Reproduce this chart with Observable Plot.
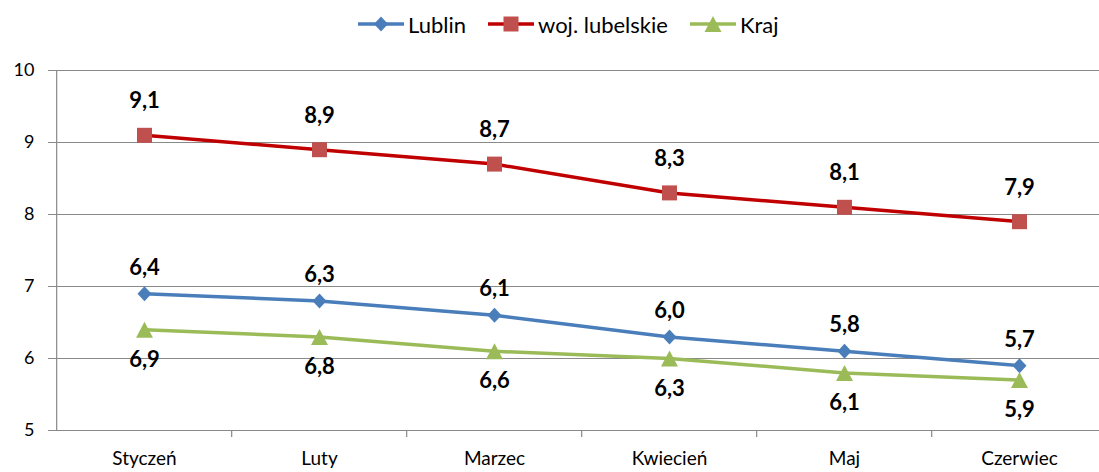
<!DOCTYPE html>
<html>
<head>
<meta charset="utf-8">
<script src="https://cdn.jsdelivr.net/npm/d3@7"></script>
<script src="https://cdn.jsdelivr.net/npm/@observablehq/plot@0.6"></script>
<style>
  html, body { margin: 0; padding: 0; background: #fff; }
  body { width: 1099px; height: 472px; overflow: hidden; font-family: Lato, "Noto Sans", sans-serif; }
  #legend { height: 45px; display: flex; align-items: center; padding-left: 358px; padding-top: 3px; box-sizing: border-box; }
  .item { display: flex; align-items: center; margin-right: 22px; font-size: 22px; color: #000; }
  .item svg { margin-right: 4px; }
  #chart svg { display: block; overflow: hidden; }
</style>
</head>
<body>
<div id="legend"></div>
<div id="chart"></div>
<script>
// ---- data ----
const months = ["Styczeń", "Luty", "Marzec", "Kwiecień", "Maj", "Czerwiec"];
const seriesNames = ["Lublin", "woj. lubelskie", "Kraj"];
const lublin = [6.9, 6.8, 6.6, 6.3, 6.1, 5.9];
const woj = [9.1, 8.9, 8.7, 8.3, 8.1, 7.9];
const kraj = [6.4, 6.3, 6.1, 6.0, 5.8, 5.7];
const yTicks = [5, 6, 7, 8, 9, 10];

// ---- styles ----
const lineColors = ["#4A7EBB", "#C00000", "#9BBB59"];
const markColors = ["#4A7EBB", "#C0504D", "#9BBB59"];

const diamond = {draw(ctx, size) { const r = Math.sqrt(size / Math.PI);
  ctx.moveTo(0, -r * 1.07); ctx.lineTo(r, 0); ctx.lineTo(0, r * 1.07); ctx.lineTo(-r, 0); ctx.closePath(); }};
const square = {draw(ctx, size) { const r = Math.sqrt(size / Math.PI);
  ctx.rect(-r, -r, 2 * r, 2 * r); }};
const triangle = {draw(ctx, size) { const r = Math.sqrt(size / Math.PI);
  ctx.moveTo(0, -r); ctx.lineTo(r * 1.06, r); ctx.lineTo(-r * 1.06, r); ctx.closePath(); }};
const symbols = [diamond, square, triangle];
const radii = [7, 7.5, 8];

const fmt = v => d3.format(".1f")(v).replace(".", ",");
const rows = (vals) => months.map((m, i) => ({month: m, value: vals[i], i}));
const dataL = rows(lublin), dataW = rows(woj), dataK = rows(kraj);

// ---- legend ----
const legend = document.getElementById("legend");
seriesNames.forEach((name, k) => {
  const item = document.createElement("div");
  item.className = "item";
  const s = d3.create("svg").attr("width", 46).attr("height", 20);
  s.append("line").attr("x1", 0).attr("x2", 46).attr("y1", 10).attr("y2", 10)
    .attr("stroke", lineColors[k]).attr("stroke-width", 3.5);
  s.append("path").attr("transform", "translate(23,10)")
    .attr("d", d3.symbol(symbols[k], Math.PI * radii[k] * radii[k])())
    .attr("fill", markColors[k]);
  item.appendChild(s.node());
  const t = document.createElement("span");
  t.textContent = name;
  item.appendChild(t);
  legend.appendChild(item);
});

// ---- chart ----
const W = 1099, H = 427;
const x0 = 55, x1 = 1109; // category area (extends past right edge)
const half = (x1 - x0) / months.length / 2;

const chart = Plot.plot({
  width: W, height: H,
  marginLeft: 55, marginRight: 0, marginTop: 25, marginBottom: 42,
  style: {fontFamily: "Lato, 'Noto Sans', sans-serif", fontSize: "18px", color: "#000", background: "#fff"},
  x: {type: "point", domain: months, range: [x0 + half, x1 - half], padding: 0, axis: null},
  y: {type: "linear", domain: [5, 10], range: [H - 42, 25], axis: null},
  marks: [
    Plot.ruleY(yTicks, {y: d => d, stroke: "#898989", strokeWidth: 1.2}),
    Plot.ruleX([months[0]], {x: d => d, y1: 5, y2: 10, dx: -half, stroke: "#898989", strokeWidth: 1.2}),
    Plot.ruleX(months.slice(1), {x: d => d, y1: 5, y2: 5, insetBottom: -7, dx: -half, stroke: "#898989", strokeWidth: 1.2}),
    Plot.axisY({ticks: yTicks, tickSize: 7, tickPadding: 14, stroke: "#898989", fill: "#000", fontSize: 18, tickFormat: d => d, label: null}),
    Plot.axisX({tickSize: 0, tickPadding: 21, fill: "#000", fontSize: 19, lineAnchor: "top", label: null}),
    // Lublin
    Plot.line(dataL, {x: "month", y: "value", stroke: lineColors[0], strokeWidth: 3.5}),
    Plot.dot(dataL, {x: "month", y: "value", symbol: diamond, r: radii[0], fill: markColors[0], stroke: "none"}),
    // woj. lubelskie
    Plot.line(dataW, {x: "month", y: "value", stroke: lineColors[1], strokeWidth: 3.5}),
    Plot.dot(dataW, {x: "month", y: "value", symbol: square, r: radii[1], fill: markColors[1], stroke: "none"}),
    // Kraj
    Plot.line(dataK, {x: "month", y: "value", stroke: lineColors[2], strokeWidth: 3.5}),
    Plot.dot(dataK, {x: "month", y: "value", symbol: triangle, r: radii[2], fill: markColors[2], stroke: "none"}),
    // data labels
    Plot.text(dataW, {x: "month", y: "value", text: d => fmt(d.value), dy: -34, fontWeight: "bold", fontSize: 22, fill: "#000"}),
    Plot.text(dataK, {x: "month", y: d => lublin[d.i], text: d => fmt(d.value), dy: -26, fontWeight: "bold", fontSize: 22, fill: "#000"}),
    Plot.text(dataL, {x: "month", y: d => kraj[d.i], text: d => fmt(d.value), dy: 30, fontWeight: "bold", fontSize: 22, fill: "#000"})
  ]
});
document.getElementById("chart").appendChild(chart);
</script>
</body>
</html>
